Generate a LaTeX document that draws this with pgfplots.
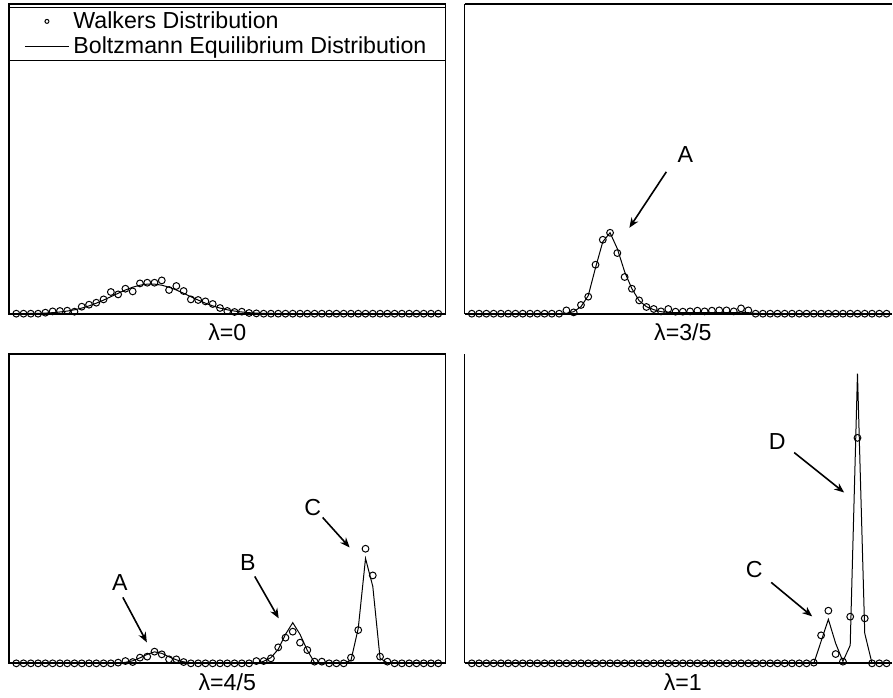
\documentclass[border=0pt]{standalone}
\usepackage{pgfplots}
\pgfplotsset{compat=1.18}
\usepackage{pgfplotstable}
\usepackage{fontspec}
\setmainfont{Liberation Sans}
\usetikzlibrary{arrows.meta}

% panel lambda=0
\pgfplotstableread{
x w b
1 0 0
2 0 0.1
3 0 0.2
4 0 0.35
5 1 0.6
6 2.3 1.0
7 2.7 1.7
8 3 2.6
9 2 3.9
10 7 5.6
11 9 7.8
12 11 10.5
13 14.3 13.6
14 21.7 17.0
15 19.3 20.4
16 25 23.7
17 22.3 26.5
18 30.3 28.5
19 31 29.6
20 31 29.6
21 33.3 28.5
22 23.7 26.5
23 27.7 23.7
24 22.7 20.4
25 14.3 17.0
26 13.7 13.6
27 12.3 10.5
28 9.7 7.8
29 5.7 5.6
30 2.7 3.9
31 1.7 2.6
32 2 1.7
33 0.7 1.0
34 0.3 0.6
35 0 0.35
36 0 0.2
37 0 0.1
38 0 0
39 0 0
40 0 0
41 0 0
42 0 0
43 0 0
44 0 0
45 0 0
46 0 0
47 0 0
48 0 0
49 0 0
50 0 0
51 0 0
52 0 0
53 0 0
54 0 0
55 0 0
56 0 0
57 0 0
58 0 0
59 0 0
}\tabA

% panel lambda=3/5
\pgfplotstableread{
x w b
1 0 0
2 0 0
3 0 0
4 0 0
5 0 0
6 0 0
7 0 0
8 0 0
9 0 0
10 0 0
11 0 0
12 0 0
13 0 0
14 3.3 0.3
15 1.3 2
16 8.7 7
17 17 18
18 49 46
19 74 72
20 81 81
21 60.7 65
22 36.7 42
23 25 25
24 13.3 13
25 6.7 7
26 4.7 4
27 2.3 2
28 4.7 1.2
29 2 1
30 2 1
31 2.3 1
32 3 1
33 2.3 1
34 3 1
35 3.3 1
36 3.3 1
37 2.3 1
38 5.3 1.5
39 3.3 1
40 0 0.3
41 0 0
42 0 0
43 0 0
44 0 0
45 0 0
46 0 0
47 0 0
48 0 0
49 0 0
50 0 0
51 0 0
52 0 0
53 0 0
54 0 0
55 0 0
56 0 0
57 0 0
58 0 0
}\tabB

% panel lambda=4/5
\pgfplotstableread{
x w b
1 0 0
2 0 0
3 0 0
4 0 0
5 0 0
6 0 0
7 0 0
8 0 0
9 0 0
10 0 0
11 0 0
12 0 0
13 0 0
14 0 0
15 0.7 0
16 2.3 1
17 1.3 2.5
18 5.7 5.5
19 6.7 9
20 11.7 11.5
21 9 10
22 4 6.5
23 4 3.5
24 1.3 1.5
25 0 0.5
26 0 0
27 0 0
28 0 0
29 0 0
30 0 0
31 0 0
32 0 0
33 0 0
34 2.3 0
35 2.3 2
36 5 5.7
37 16 14
38 25.7 29
39 31.7 40.7
40 20.7 29
41 13.3 13
42 1.7 0.7
43 1.7 0
44 0 0
45 0 0
46 0 0
47 5.7 3
48 33.3 35
49 114.7 105
50 88 77
51 6.7 5
52 1.7 0.5
53 0 0
54 0 0
55 0 0
56 0 0
57 0 0
58 0 0
59 0 0
}\tabC

% panel lambda=1
\pgfplotstableread{
x w b
1 0 0
2 0 0
3 0 0
4 0 0
5 0 0
6 0 0
7 0 0
8 0 0
9 0 0
10 0 0
11 0 0
12 0 0
13 0 0
14 0 0
15 0 0
16 0 0
17 0 0
18 0 0
19 0 0
20 0 0
21 0 0
22 0 0
23 0 0
24 0 0
25 0 0
26 0 0
27 0 0
28 0 0
29 0 0
30 0 0
31 0 0
32 0 0
33 0 0
34 0 0
35 0 0
36 0 0
37 0 0
38 0 0
39 0 0
40 0 0
41 0 0
42 0 0
43 0 0
44 0 0
45 0 0
46 0 0
47 0 0
48 0.7 0
49 28 22
50 52.7 44
51 9.3 20
52 1.7 2
53 46.7 18
54 225.7 290
55 45 30
56 0 0
57 0 0
58 0 0
}\tabD

\pgfplotsset{
  panel/.style={scale only axis, width=218.5pt, height=155pt,
    xmin=0, xmax=60, ymin=0, ymax=310, xtick=\empty, ytick=\empty,
    axis line style={line width=0.9pt},
    xlabel style={at={(axis description cs:0.5,0)}, anchor=center, yshift=-9.5pt},
    label style={font=\fontsize{11.6}{13.5}\selectfont}},
  rpanel/.style={panel, width=214pt, xmax=58.76,
    axis x line*=bottom, axis y line*=left, axis line style={-, line width=0.9pt},
    xlabel style={at={(axis description cs:0.5106,0)}}},
  walk/.style={black, only marks, mark=o, mark size=1.7pt, mark options={line width=0.5pt}},
  boltz/.style={black, no marks, line width=0.5pt},
}

\begin{document}
\begin{tikzpicture}
\path (0,0) rectangle (446.5pt,347pt);
\begin{axis}[panel, anchor=south west, at={(4.5pt,190pt)}, xlabel={λ=0},
  legend style={at={(0,1)}, anchor=north west, yshift=-1.5pt, draw=black, line width=0.5pt,
    font=\fontsize{11.6}{13.5}\selectfont, inner xsep=7.5pt, inner ysep=0pt, row sep=-1.5pt},
  legend cell align=left]
\addplot[walk, legend image code/.code={\draw[black, line width=0.5pt] plot[only marks, mark=o, mark size=1pt] coordinates {(11pt,0pt)};}] table[x=x,y=w]{\tabA};
\addlegendentry{Walkers Distribution}
\addplot[boltz, legend image code/.code={\draw[black, line width=0.5pt] (0pt,0pt) -- (22pt,0pt);}] table[x=x,y=b]{\tabA};
\addlegendentry{Boltzmann Equilibrium Distribution}
\end{axis}
\begin{axis}[rpanel, anchor=south west, at={(232.5pt,190pt)}, xlabel={λ=3/5}]
\addplot[walk] table[x=x,y=w]{\tabB};
\addplot[boltz] table[x=x,y=b]{\tabB};
\draw[line width=0.9pt] (rel axis cs:0,1) -- (rel axis cs:1,1);
\end{axis}
\begin{axis}[panel, anchor=south west, at={(4.5pt,15pt)}, xlabel={λ=4/5}]
\addplot[walk] table[x=x,y=w]{\tabC};
\addplot[boltz] table[x=x,y=b]{\tabC};
\end{axis}
\begin{axis}[rpanel, anchor=south west, at={(232.5pt,15pt)}, xlabel={λ=1}]
\addplot[walk] table[x=x,y=w]{\tabD};
\addplot[boltz] table[x=x,y=b]{\tabD};
\end{axis}
\begin{scope}[x=0.5pt, y=-0.5pt, shift={(0pt,347pt)}, font=\fontsize{11.6}{13.5}\selectfont,
  arr/.style={-{Stealth[length=5pt,width=4pt]}, line width=0.8pt}]
\node at (686,155) {A};
\draw[arr] (667,172) -- (630,228);
\node at (120,583) {A};
\draw[arr] (123,598) -- (147,643);
\node at (248,563) {B};
\draw[arr] (255,577) -- (279,619);
\node at (313,508) {C};
\draw[arr] (323,518) -- (350,548);
\node at (778,442) {D};
\draw[arr] (795,453) -- (845,493);
\node at (755,570) {C};
\draw[arr] (772,583) -- (813,617);
\end{scope}
\end{tikzpicture}
\end{document}
